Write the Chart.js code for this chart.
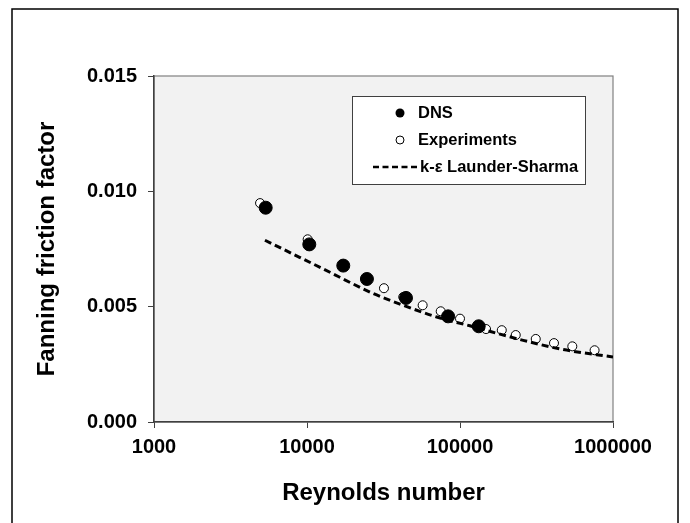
<!DOCTYPE html>
<html>
<head>
<meta charset="utf-8">
<script src="https://cdn.jsdelivr.net/npm/chart.js@4"></script>
<style>
html,body{margin:0;padding:0;background:#fff;}
#wrap{width:690px;height:523px;position:relative;}
</style>
</head>
<body>
<div id="wrap"><canvas id="c" width="690" height="523"></canvas></div>
<script>
// ---- data ----
const xTickValues = [1000, 10000, 100000, 1000000];
const yTickValues = [0, 0.005, 0.010, 0.015];

const dnsRe = [5370, 10350, 17260, 24640, 44360, 83600, 132500];
const dnsF  = [0.00929, 0.00770, 0.00678, 0.00620, 0.00538, 0.00458, 0.00415];

const expRe = [4934, 10100, 31840, 42560, 57000, 74800, 100000, 148000, 187500, 231400, 312700, 411500, 542000, 758000];
const expF  = [0.00949, 0.00792, 0.00580, 0.00542, 0.00506, 0.00480, 0.00448, 0.00403, 0.00398, 0.00377, 0.00360, 0.00342, 0.00328, 0.00311];

const lsRe = [5310, 12470, 27100, 42600, 70500, 116000, 259000, 473000, 1000000];
const lsF  = [0.00788, 0.00667, 0.00557, 0.00506, 0.00455, 0.00417, 0.00354, 0.00314, 0.00282];

const seriesNames = ['DNS', 'Experiments', 'k-\u03b5 Launder-Sharma'];

const pts = (xs, ys) => xs.map((x, i) => ({x: x, y: ys[i]}));
const FONT = '"Liberation Sans", Arial, sans-serif';

const framePlugin = {
  id: 'frame',
  beforeDraw(chart) {
    const {ctx, chartArea: a} = chart;
    ctx.save();
    ctx.fillStyle = '#fff';
    ctx.fillRect(0, 0, chart.width, chart.height);
    ctx.strokeStyle = '#000';
    ctx.lineWidth = 1.5;
    ctx.strokeRect(12, 9, 666, 540);
    ctx.fillStyle = '#f2f2f2';
    ctx.fillRect(a.left, a.top, a.right - a.left, a.bottom - a.top);
    ctx.strokeStyle = '#808080';
    ctx.lineWidth = 1.2;
    ctx.strokeRect(a.left, a.top, a.right - a.left, a.bottom - a.top);
    ctx.restore();
  },
  afterDraw(chart) {
    const ctx = chart.ctx;
    // legend box
    const L = 352, T = 96, R = 585, B = 184;
    ctx.save();
    ctx.fillStyle = '#fff';
    ctx.fillRect(L, T, R - L, B - T);
    ctx.strokeStyle = '#404040';
    ctx.lineWidth = 1;
    ctx.strokeRect(L + 0.5, T + 0.5, R - L, B - T);
    ctx.font = 'bold 16.5px ' + FONT;
    ctx.textBaseline = 'middle';
    ctx.fillStyle = '#000';
    const rows = [113, 140, 167];
    // DNS
    ctx.beginPath(); ctx.arc(400, rows[0], 4.5, 0, Math.PI * 2); ctx.fill();
    ctx.fillText(seriesNames[0], 418, rows[0]);
    // Experiments
    ctx.beginPath(); ctx.arc(400, rows[1], 4, 0, Math.PI * 2);
    ctx.fillStyle = '#fff'; ctx.fill(); ctx.strokeStyle = '#000'; ctx.lineWidth = 1; ctx.stroke();
    ctx.fillStyle = '#000';
    ctx.fillText(seriesNames[1], 418, rows[1]);
    // line
    ctx.beginPath(); ctx.setLineDash([6, 3.5]); ctx.lineWidth = 2.5;
    ctx.moveTo(373, rows[2]); ctx.lineTo(419, rows[2]); ctx.stroke();
    ctx.setLineDash([]);
    ctx.fillText(seriesNames[2], 420, rows[2]);
    ctx.restore();
  }
};

new Chart(document.getElementById('c'), {
  type: 'scatter',
  data: {
    datasets: [
      {
        label: seriesNames[0], data: pts(dnsRe, dnsF), order: 0,
        pointRadius: 6.5, pointBackgroundColor: '#000', pointBorderColor: '#000', pointBorderWidth: 1
      },
      {
        label: seriesNames[2], data: pts(lsRe, lsF), order: 1, type: 'line', showLine: true,
        borderColor: '#000', borderWidth: 3, borderDash: [7, 4], pointRadius: 0, fill: false,
        cubicInterpolationMode: 'monotone'
      },
      {
        label: seriesNames[1], data: pts(expRe, expF), order: 2,
        pointRadius: 4.5, pointBackgroundColor: '#fff', pointBorderColor: '#000', pointBorderWidth: 1
      }
    ]
  },
  options: {
    responsive: false,
    animation: false,
    layout: {padding: {left: 0, right: 77, top: 76, bottom: 0}},
    plugins: {legend: {display: false}, tooltip: {enabled: false}},
    scales: {
      x: {
        type: 'logarithmic', min: 1000, max: 1000000,
        afterBuildTicks: s => { s.ticks = xTickValues.map(v => ({value: v})); },
        afterFit: s => { s.height = 101; },
        grid: {drawOnChartArea: false, drawTicks: true, tickLength: 6, color: '#404040'},
        border: {display: true, color: '#404040', width: 1.5},
        ticks: {
          color: '#000', padding: 7, maxRotation: 0, autoSkip: false,
          font: {family: FONT, size: 20, weight: 'bold'},
          callback: v => String(v)
        },
        title: {
          display: true, text: 'Reynolds number', color: '#000',
          font: {family: FONT, size: 24, weight: 'bold'},
          padding: {top: 0, bottom: 15}
        }
      },
      y: {
        min: 0, max: 0.015,
        afterBuildTicks: s => { s.ticks = yTickValues.map(v => ({value: v})); },
        afterFit: s => { s.width = 154; },
        grid: {drawOnChartArea: false, drawTicks: true, tickLength: 6, color: '#404040'},
        border: {display: true, color: '#404040', width: 1.5},
        ticks: {
          color: '#000', padding: 11,
          font: {family: FONT, size: 20, weight: 'bold'},
          callback: v => Number(v).toFixed(3)
        },
        title: {
          display: true, text: 'Fanning friction factor', color: '#000',
          font: {family: FONT, size: 24, weight: 'bold'},
          padding: {top: 33, bottom: 0}
        }
      }
    }
  },
  plugins: [framePlugin]
});
</script>
</body>
</html>
